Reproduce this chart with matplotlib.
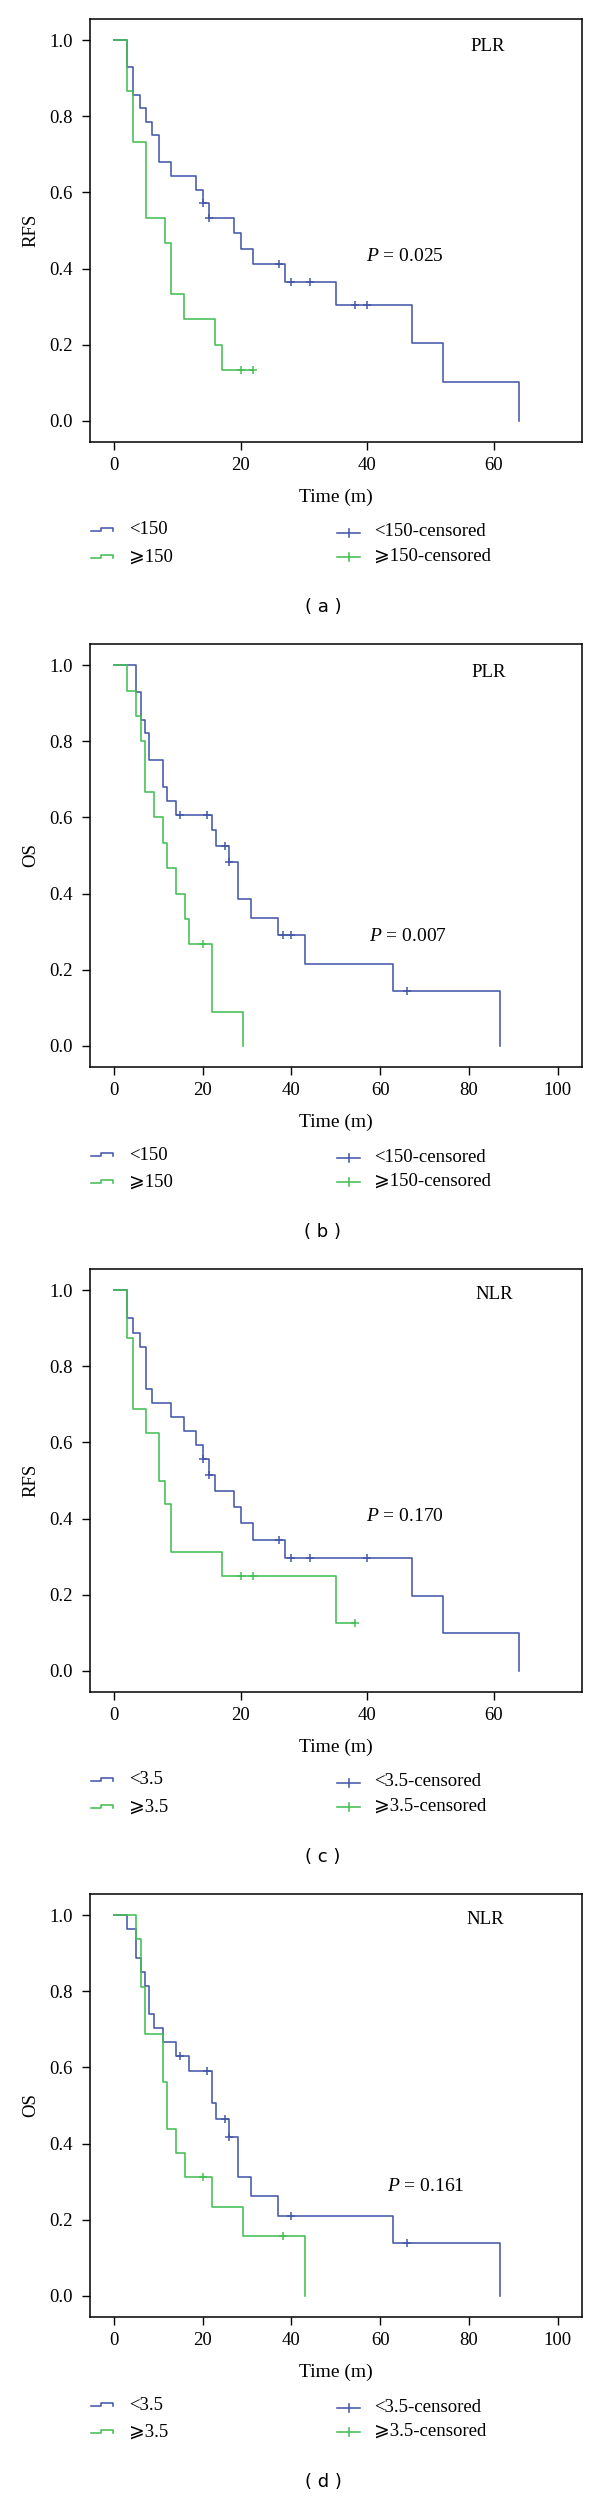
import matplotlib
matplotlib.use("Agg")
import matplotlib.pyplot as plt
from matplotlib.lines import Line2D

# ---------------- data ----------------
panel_tags = ["( a )", "( b )", "( c )", "( d )"]
y_labels = ["RFS", "OS", "RFS", "OS"]
ratio_names = ["PLR", "PLR", "NLR", "NLR"]
p_texts = ["0.025", "0.007", "0.170", "0.161"]
group_low = ["<150", "<150", "<3.5", "<3.5"]
group_high = ["\u2a7e150", "\u2a7e150", "\u2a7e3.5", "\u2a7e3.5"]

# Panel (a) RFS by PLR
blue_a_t = [0, 2, 3, 4, 5, 6, 7, 9, 13, 14, 15, 19, 20, 22, 27, 35, 47, 52, 64]
blue_a_s = [1.0, 0.929, 0.857, 0.821, 0.786, 0.750, 0.679, 0.643, 0.607, 0.571,
            0.533, 0.493, 0.452, 0.411, 0.364, 0.304, 0.203, 0.101, 0.0]
blue_a_cens_t = [14, 15, 26, 28, 31, 38, 40]
blue_a_cens_s = [0.571, 0.533, 0.411, 0.364, 0.364, 0.304, 0.304]
green_a_t = [0, 2, 3, 5, 8, 9, 11, 16, 17, 22]
green_a_s = [1.0, 0.867, 0.733, 0.533, 0.467, 0.333, 0.267, 0.200, 0.133, 0.133]
green_a_cens_t = [20, 22]
green_a_cens_s = [0.133, 0.133]

# Panel (b) OS by PLR
blue_b_t = [0, 5, 6, 7, 8, 11, 12, 14, 22, 23, 26, 28, 31, 37, 43, 63, 87]
blue_b_s = [1.0, 0.929, 0.857, 0.821, 0.750, 0.679, 0.643, 0.607, 0.568, 0.525,
            0.482, 0.386, 0.337, 0.290, 0.216, 0.144, 0.0]
blue_b_cens_t = [15, 21, 25, 26, 38, 40, 66]
blue_b_cens_s = [0.607, 0.607, 0.525, 0.482, 0.290, 0.290, 0.144]
green_b_t = [0, 3, 5, 6, 7, 9, 11, 12, 14, 16, 17, 22, 29]
green_b_s = [1.0, 0.933, 0.867, 0.800, 0.667, 0.600, 0.533, 0.467, 0.400, 0.333,
             0.267, 0.089, 0.0]
green_b_cens_t = [20]
green_b_cens_s = [0.267]

# Panel (c) RFS by NLR
blue_c_t = [0, 2, 3, 4, 5, 6, 9, 11, 13, 14, 15, 16, 19, 20, 22, 27, 47, 52, 64]
blue_c_s = [1.0, 0.926, 0.889, 0.852, 0.741, 0.704, 0.667, 0.630, 0.593, 0.556,
            0.515, 0.473, 0.430, 0.387, 0.344, 0.295, 0.197, 0.098, 0.0]
blue_c_cens_t = [14, 15, 26, 28, 31, 40]
blue_c_cens_s = [0.556, 0.515, 0.344, 0.295, 0.295, 0.295]
green_c_t = [0, 2, 3, 5, 7, 8, 9, 17, 35, 38]
green_c_s = [1.0, 0.875, 0.6875, 0.625, 0.5, 0.4375, 0.3125, 0.25, 0.125, 0.125]
green_c_cens_t = [20, 22, 38]
green_c_cens_s = [0.25, 0.25, 0.125]

# Panel (d) OS by NLR
blue_d_t = [0, 3, 5, 6, 7, 8, 9, 11, 14, 17, 22, 23, 26, 28, 31, 37, 63, 87]
blue_d_s = [1.0, 0.963, 0.889, 0.852, 0.815, 0.741, 0.704, 0.667, 0.630, 0.590,
            0.506, 0.464, 0.418, 0.313, 0.261, 0.209, 0.139, 0.0]
blue_d_cens_t = [15, 21, 25, 26, 40, 66]
blue_d_cens_s = [0.630, 0.590, 0.464, 0.418, 0.209, 0.139]
green_d_t = [0, 5, 6, 7, 11, 12, 14, 16, 22, 29, 43]
green_d_s = [1.0, 0.9375, 0.8125, 0.6875, 0.5625, 0.4375, 0.375, 0.3125, 0.234,
             0.156, 0.0]
green_d_cens_t = [20, 38]
green_d_cens_s = [0.3125, 0.156]

x_ticks_short = [0, 20, 40, 60]
x_ticks_long = [0, 20, 40, 60, 80, 100]
y_ticks = [0.0, 0.2, 0.4, 0.6, 0.8, 1.0]

# ---------------- style ----------------
BLUE = "#4558A8"
GREEN = "#45BE55"
SERIF = "Liberation Serif"
plt.rcParams["font.family"] = [SERIF, "DejaVu Serif"]
plt.rcParams["mathtext.fontset"] = "custom"
plt.rcParams["mathtext.it"] = SERIF + ":italic"
plt.rcParams["mathtext.rm"] = SERIF
FS = 13.5

W, H = 600, 2497
fig = plt.figure(figsize=(W / 100, H / 100), dpi=100)


def fx(x):
    return x / W


def fy(y):
    return 1 - y / H


panels = [
    dict(bt=blue_a_t, bs=blue_a_s, bct=blue_a_cens_t, bcs=blue_a_cens_s,
         gt=green_a_t, gs=green_a_s, gct=green_a_cens_t, gcs=green_a_cens_s,
         xlim=(-3.9, 73.9), xt=x_ticks_short, name_xy=(59, 0.985), p_xy=(46, 0.432)),
    dict(bt=blue_b_t, bs=blue_b_s, bct=blue_b_cens_t, bcs=blue_b_cens_s,
         gt=green_b_t, gs=green_b_s, gct=green_b_cens_t, gcs=green_b_cens_s,
         xlim=(-5.5, 105.5), xt=x_ticks_long, name_xy=(84.5, 0.98), p_xy=(66.3, 0.287)),
    dict(bt=blue_c_t, bs=blue_c_s, bct=blue_c_cens_t, bcs=blue_c_cens_s,
         gt=green_c_t, gs=green_c_s, gct=green_c_cens_t, gcs=green_c_cens_s,
         xlim=(-3.9, 73.9), xt=x_ticks_short, name_xy=(60, 0.99), p_xy=(46, 0.406)),
    dict(bt=blue_d_t, bs=blue_d_s, bct=blue_d_cens_t, bcs=blue_d_cens_s,
         gt=green_d_t, gs=green_d_s, gct=green_d_cens_t, gcs=green_d_cens_s,
         xlim=(-5.5, 105.5), xt=x_ticks_long, name_xy=(83.7, 0.99), p_xy=(70.4, 0.286)),
]

LEFT, RIGHT = 89.5, 582
PITCH = 625
TOP0, BOT0 = 19, 442

for i, pdat in enumerate(panels):
    top = TOP0 + PITCH * i
    bot = BOT0 + PITCH * i
    ax = fig.add_axes([fx(LEFT), fy(bot), fx(RIGHT) - fx(LEFT), (bot - top) / H])
    ax.step(pdat["bt"], pdat["bs"], where="post", color=BLUE, lw=1.15)
    ax.step(pdat["gt"], pdat["gs"], where="post", color=GREEN, lw=1.15)
    ax.plot(pdat["bct"], pdat["bcs"], ls="none", marker="+", ms=5.5, mew=1.1, color=BLUE)
    ax.plot(pdat["gct"], pdat["gcs"], ls="none", marker="+", ms=5.5, mew=1.1, color=GREEN)
    ax.set_xlim(*pdat["xlim"])
    ax.set_ylim(-0.056, 1.056)
    ax.set_xticks(pdat["xt"])
    ax.set_xticklabels([str(v) for v in pdat["xt"]])
    ax.set_yticks(y_ticks)
    ax.set_yticklabels([f"{v:.1f}" for v in y_ticks])
    ax.tick_params(axis="both", direction="out", length=6, width=1.0,
                   labelsize=FS, color="black")
    ax.tick_params(axis="x", pad=5)
    ax.tick_params(axis="y", pad=6)
    for sp in ax.spines.values():
        sp.set_linewidth(1.1)
        sp.set_color("black")
    ax.text(*pdat["name_xy"], ratio_names[i], ha="center", va="center", fontsize=FS)
    ax.text(*pdat["p_xy"], "$P$ = " + p_texts[i], ha="center", va="center", fontsize=FS + 0.5)

    # y label
    fig.text(fx(31), fy((top + bot) / 2), y_labels[i], rotation=90,
             ha="center", va="center", fontsize=FS)
    # x label
    fig.text(fx((LEFT + RIGHT) / 2), fy(bot + 55), "Time (m)",
             ha="center", va="center", fontsize=FS + 0.5)

    # legend
    rows_l = [bot + 88, bot + 115]
    rows_r = [bot + 91, bot + 115]
    cols = [BLUE, GREEN]
    fam = [SERIF, "DejaVu Serif", "DejaVu Sans"]
    for rl, rr, c, lab_l, lab_r in zip(rows_l, rows_r, cols,
                                       [group_low[i], group_high[i]],
                                       [group_low[i] + "-censored", group_high[i] + "-censored"]):
        xs = [91, 101, 101, 113, 113]
        ys = [rl + 1, rl + 1, rl - 2.5, rl - 2.5, rl + 0.5]
        fig.add_artist(Line2D([fx(v) for v in xs], [fy(v) for v in ys],
                              color=c, lw=1.15, transform=fig.transFigure))
        fig.text(fx(129), fy(rl), lab_l, ha="left", va="center", fontsize=FS, family=fam)
        fig.add_artist(Line2D([fx(337), fx(360)], [fy(rr), fy(rr)],
                              color=c, lw=1.15, transform=fig.transFigure))
        fig.add_artist(Line2D([fx(348.5), fx(348.5)], [fy(rr - 4), fy(rr + 4)],
                              color=c, lw=1.15, transform=fig.transFigure))
        fig.text(fx(374), fy(rr - 1), lab_r, ha="left", va="center", fontsize=FS, family=fam)

    # panel tag
    fig.text(fx(323), fy(bot + 165), panel_tags[i], ha="center", va="center",
             fontsize=13, family="DejaVu Sans")

fig.savefig("out.png", dpi=100)
